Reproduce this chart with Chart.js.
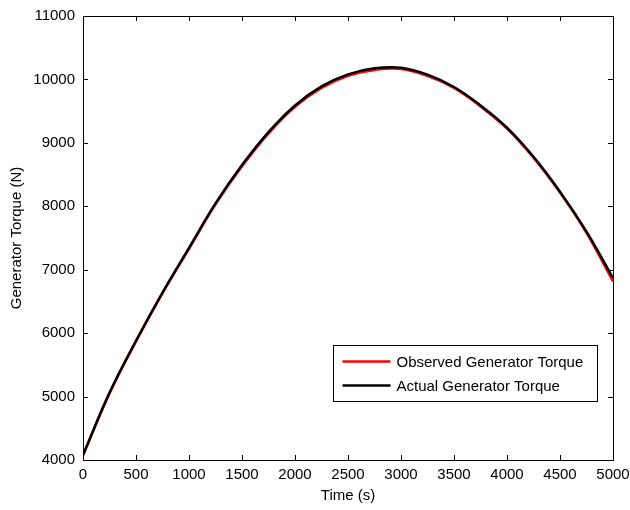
<!DOCTYPE html>
<html>
<head>
<meta charset="utf-8">
<script src="https://cdn.jsdelivr.net/npm/chart.js@4/dist/chart.umd.min.js"></script>
<style>
  html, body { margin: 0; padding: 0; background: #fff; }
  #wrap { width: 630px; height: 510px; }
</style>
</head>
<body>
<div id="wrap"><canvas id="torque"></canvas></div>
<script>
// Tiempo (s) y par del generador (N)
const times = [0, 250, 500, 750, 1000, 1250, 1500, 1750, 2000, 2250, 2500,
  2750, 3000, 3250, 3500, 3750, 4000, 4250, 4500, 4750, 5000];
const observedTorque = [4070, 5050, 5870, 6630, 7330, 8030, 8630, 9150, 9570,
  9865, 10055, 10150, 10165, 10055, 9865, 9575, 9225, 8765, 8215, 7580, 6815];
const actualTorque = [4080, 5060, 5880, 6640, 7345, 8045, 8650, 9170, 9590,
  9890, 10080, 10175, 10185, 10075, 9880, 9590, 9240, 8780, 8230, 7600, 6870];

const xTicks = [0, 500, 1000, 1500, 2000, 2500, 3000, 3500, 4000, 4500, 5000];
const yTicks = [4000, 5000, 6000, 7000, 8000, 9000, 10000, 11000];

const font = { family: "'Liberation Sans', Arial, sans-serif", size: 15 };

// Marcas hacia adentro en los cuatro lados, estilo MATLAB
const innerTicks = {
  id: "innerTicks",
  afterDraw(chart) {
    const { ctx, chartArea: a, scales } = chart;
    const len = 5;
    ctx.save();
    ctx.strokeStyle = "#000";
    ctx.lineWidth = 1;
    ctx.strokeRect(a.left + 0.5, a.top + 0.5, a.right - a.left, a.bottom - a.top);
    ctx.beginPath();
    for (const v of xTicks) {
      const x = Math.round(scales.x.getPixelForValue(v)) + 0.5;
      ctx.moveTo(x, a.bottom); ctx.lineTo(x, a.bottom - len);
      ctx.moveTo(x, a.top); ctx.lineTo(x, a.top + len);
    }
    for (const v of yTicks) {
      const y = Math.round(scales.y.getPixelForValue(v)) + 0.5;
      ctx.moveTo(a.left, y); ctx.lineTo(a.left + len, y);
      ctx.moveTo(a.right, y); ctx.lineTo(a.right - len, y);
    }
    ctx.stroke();
    ctx.restore();
  },
};

// Leyenda dentro del área, abajo a la derecha
const boxLegend = {
  id: "boxLegend",
  afterDraw(chart) {
    const { ctx } = chart;
    const box = { x: 333.5, y: 345.5, w: 264, h: 56 };
    ctx.save();
    ctx.fillStyle = "#fff";
    ctx.fillRect(box.x, box.y, box.w, box.h);
    ctx.strokeStyle = "#000";
    ctx.lineWidth = 1;
    ctx.strokeRect(box.x, box.y, box.w, box.h);
    ctx.font = `${font.size}px ${font.family}`;
    ctx.textBaseline = "middle";
    chart.data.datasets.forEach((ds, i) => {
      const y = box.y + 16 + i * 24;
      ctx.strokeStyle = ds.borderColor;
      ctx.lineWidth = 2.5;
      ctx.beginPath();
      ctx.moveTo(box.x + 9, y);
      ctx.lineTo(box.x + 57, y);
      ctx.stroke();
      ctx.fillStyle = "#000";
      ctx.fillText(ds.label, box.x + 63, y + 1);
    });
    ctx.restore();
  },
};

new Chart(document.querySelector("#torque"), {
  type: "line",
  data: {
    labels: times,
    datasets: [
      {
        label: "Observed Generator Torque",
        data: times.map((t, i) => ({ x: t, y: observedTorque[i] })),
        borderColor: "#ff0000",
        borderWidth: 2.5,
        pointRadius: 0,
        tension: 0.4,
        order: 2,
      },
      {
        label: "Actual Generator Torque",
        data: times.map((t, i) => ({ x: t, y: actualTorque[i] })),
        borderColor: "#000000",
        borderWidth: 2.5,
        pointRadius: 0,
        tension: 0.4,
        order: 1,
      },
    ],
  },
  options: {
    responsive: true,
    maintainAspectRatio: false,
    animation: false,
    layout: { padding: { left: 0, top: 16, right: 17, bottom: 0 } },
    plugins: { legend: { display: false }, tooltip: { enabled: false } },
    scales: {
      x: {
        type: "linear",
        min: 0,
        max: 5000,
        afterBuildTicks: (s) => { s.ticks = xTicks.map((v) => ({ value: v })); },
        afterFit: (s) => { s.height = 50; s.paddingLeft = 0; s.paddingRight = 0; },
        grid: { display: false, drawTicks: false },
        border: { color: "#000" },
        ticks: { color: "#000", font, padding: 6, maxRotation: 0, callback: (v) => String(v) },
        title: { display: true, text: "Time (s)", color: "#000", font, padding: { top: 0, bottom: 5 } },
      },
      y: {
        type: "linear",
        min: 4000,
        max: 11000,
        afterBuildTicks: (s) => { s.ticks = yTicks.map((v) => ({ value: v })); },
        afterFit: (s) => { s.width = 83; s.paddingTop = 0; s.paddingBottom = 0; },
        grid: { display: false, drawTicks: false },
        border: { color: "#000" },
        ticks: { color: "#000", font, padding: 8, callback: (v) => String(v) },
        title: { display: true, text: "Generator Torque (N)", color: "#000", font, padding: { top: 8, bottom: 0 } },
      },
    },
  },
  plugins: [innerTicks, boxLegend],
});
</script>
</body>
</html>
